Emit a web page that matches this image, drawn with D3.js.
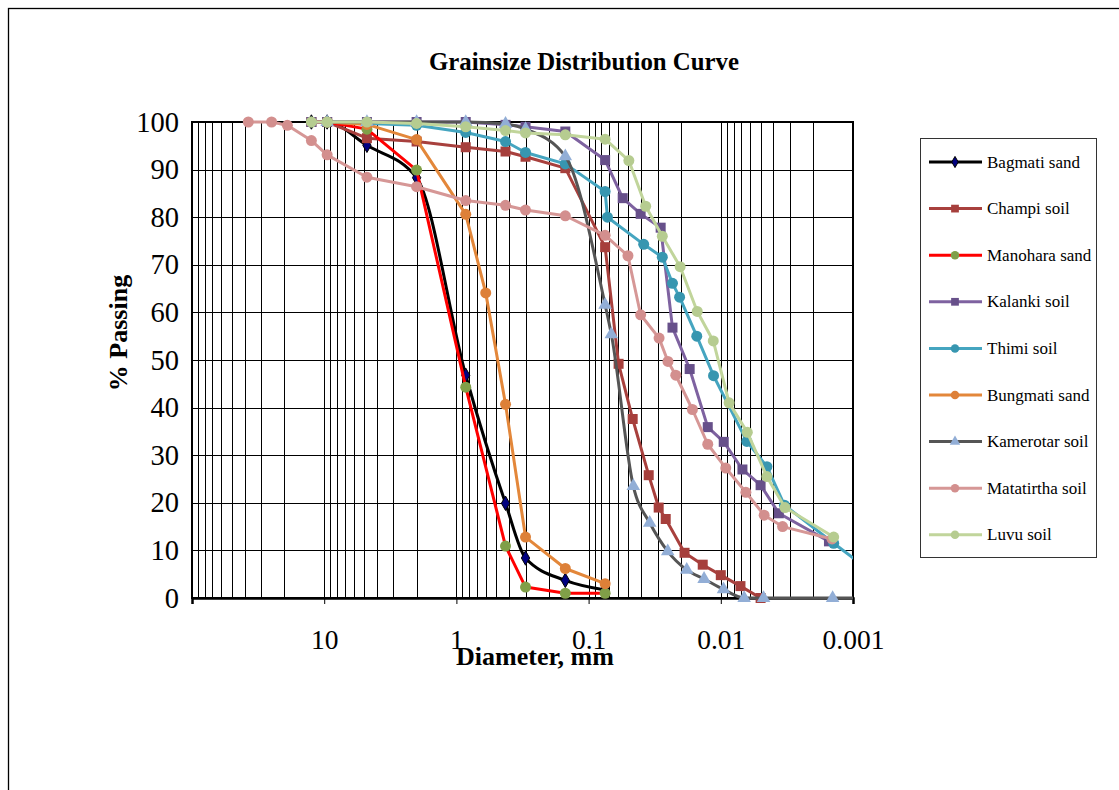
<!DOCTYPE html>
<html>
<head>
<meta charset="utf-8">
<script src="https://cdn.jsdelivr.net/npm/d3@7"></script>
<style>
  body { margin: 0; background: #fff; }
  text { font-family: "Times New Roman", "Liberation Serif", serif; fill: #000; }
</style>
</head>
<body>
<svg id="chart" width="1119" height="790"></svg>
<script>
// series names, in legend / drawing order
const seriesNames = ["Bagmati sand", "Champi soil", "Manohara sand", "Kalanki soil", "Thimi soil",
                     "Bungmati sand", "Kamerotar soil", "Matatirtha soil", "Luvu soil"];

// diameters (mm) and % passing
const bagmatiD = [12.5, 9.5, 4.75, 2, 0.85, 0.425, 0.3, 0.15, 0.075];
const bagmatiP = [100, 100, 95.1, 88.3, 46.8, 19.9, 8.4, 3.7, 1.7];

const champiD = [12.5, 9.5, 4.75, 2, 0.85, 0.425, 0.3, 0.15, 0.075, 0.0593, 0.0464, 0.0351, 0.0295, 0.0261, 0.0188, 0.0137, 0.0100, 0.0071, 0.0050];
const champiP = [100, 100, 96.6, 95.9, 94.7, 93.8, 92.7, 90.3, 73.7, 49.2, 37.6, 25.8, 19.0, 16.6, 9.5, 7.0, 4.8, 2.5, 0];

const manoharaD = [12.5, 9.5, 4.75, 2, 0.85, 0.425, 0.3, 0.15, 0.075];
const manoharaP = [100, 100, 98.5, 89.9, 44.3, 10.9, 2.3, 1.0, 1.0];

const kalankiD = [12.5, 9.5, 4.75, 2, 0.85, 0.425, 0.3, 0.15, 0.075, 0.0552, 0.0404, 0.0285, 0.0232, 0.0172, 0.01255, 0.0095, 0.00686, 0.0050, 0.00364, 0.00152];
const kalankiP = [100, 100, 100, 100, 100, 99.4, 99.0, 98.0, 92.0, 84.0, 80.7, 77.8, 56.8, 48.1, 35.9, 32.8, 27.0, 23.7, 17.8, 11.9];

const thimiD = [9.5, 4.75, 2, 0.85, 0.425, 0.3, 0.15, 0.075, 0.072, 0.0383, 0.0277, 0.0232, 0.0205, 0.0152, 0.01135, 0.00635, 0.00448, 0.0033, 0.0014, 0.0009];
const thimiP = [100, 99.7, 99.3, 97.8, 95.9, 93.6, 91.2, 85.4, 80.0, 74.3, 71.6, 66.1, 63.2, 55.0, 46.7, 32.9, 27.6, 19.5, 11.5, 7.5];

const bungmatiD = [9.5, 4.75, 2, 0.85, 0.6, 0.425, 0.3, 0.15, 0.075];
const bungmatiP = [100, 99.5, 96.3, 80.6, 64.1, 40.7, 12.8, 6.2, 3.0];

const kamerotarD = [9.5, 4.75, 2, 0.85, 0.425, 0.3, 0.15, 0.075, 0.0673, 0.0459, 0.0345, 0.0252, 0.0181, 0.01338, 0.00954, 0.00666, 0.00475, 0.001426, 0.0009];
const kamerotarP = [100, 100, 100, 100, 99.6, 98.5, 92.8, 61.6, 55.4, 23.5, 15.8, 9.8, 5.9, 4.0, 1.8, 0, 0, 0, 0];

const matatirthaD = [37.5, 25, 19, 12.5, 9.5, 4.75, 2, 0.85, 0.425, 0.3, 0.15, 0.075, 0.0504, 0.0404, 0.0293, 0.0251, 0.0219, 0.0164, 0.01255, 0.00917, 0.00646, 0.0047, 0.00341, 0.00144];
const matatirthaP = [100, 100, 99.3, 96.1, 93.1, 88.4, 86.4, 83.5, 82.5, 81.5, 80.3, 76.2, 71.9, 59.5, 54.6, 49.7, 46.8, 39.6, 32.3, 27.3, 22.2, 17.4, 15.0, 12.4];

const luvuD = [12.5, 9.5, 4.75, 2, 0.85, 0.425, 0.3, 0.15, 0.075, 0.0496, 0.0370, 0.0277, 0.0203, 0.01507, 0.0114, 0.00865, 0.0063, 0.00448, 0.00327, 0.0014];
const luvuP = [100, 100, 100, 99.7, 99.0, 98.2, 97.7, 97.3, 96.4, 91.9, 82.3, 76.0, 69.6, 60.2, 54.0, 41.0, 34.8, 25.5, 19.0, 12.8];

const xTicks = [10, 1, 0.1, 0.01, 0.001];
const yTicks = [0, 10, 20, 30, 40, 50, 60, 70, 80, 90, 100];

const allD = [bagmatiD, champiD, manoharaD, kalankiD, thimiD, bungmatiD, kamerotarD, matatirthaD, luvuD];
const allP = [bagmatiP, champiP, manoharaP, kalankiP, thimiP, bungmatiP, kamerotarP, matatirthaP, luvuP];

// look of each series
const styles = [
  {line: "#000000", fill: "#000080", stroke: "#000000", sym: d3.symbolDiamond, size: 60, smooth: true},
  {line: "#A8403D", fill: "#A63F3C", stroke: "none", sym: d3.symbolSquare, size: 100},
  {line: "#FF0000", fill: "#809F48", stroke: "none", sym: d3.symbolCircle, size: 95},
  {line: "#7E62A0", fill: "#67508A", stroke: "none", sym: d3.symbolSquare, size: 100},
  {line: "#45A5C0", fill: "#3796B0", stroke: "none", sym: d3.symbolCircle, size: 95},
  {line: "#E3873A", fill: "#DD8038", stroke: "none", sym: d3.symbolCircle, size: 95},
  {line: "#555555", fill: "#92AED6", stroke: "none", sym: d3.symbolTriangle, size: 80, smooth: true},
  {line: "#D69796", fill: "#D38F8E", stroke: "none", sym: d3.symbolCircle, size: 95},
  {line: "#C1D59B", fill: "#B6CC90", stroke: "none", sym: d3.symbolCircle, size: 95}
];

const svg = d3.select("#chart");
const pLeft = 192, pRight = 853, pTop = 122, pBottom = 598;

// outer frame
svg.append("rect").attr("x", 8.5).attr("y", 8.5).attr("width", 1200).attr("height", 1000)
  .attr("fill", "none").attr("stroke", "#000").attr("stroke-width", 1.3);

const x = d3.scaleLog().domain([100, 0.001]).range([pLeft, pRight]);
const y = d3.scaleLinear().domain([0, 100]).range([pBottom, pTop]);

// grid
let gridX = [];
for (let k = -3; k <= 1; k++) for (let m = 1; m <= 9; m++) gridX.push(m * Math.pow(10, k));
gridX.push(100);

const grid = svg.append("g");
grid.selectAll("line.v").data(gridX).enter().append("line")
  .attr("x1", d => Math.round(x(d)) + 0.5).attr("x2", d => Math.round(x(d)) + 0.5)
  .attr("y1", pTop).attr("y2", pBottom)
  .attr("stroke", "#000").attr("stroke-width", 1);
grid.selectAll("line.h").data(yTicks).enter().append("line")
  .attr("x1", pLeft).attr("x2", pRight)
  .attr("y1", d => Math.round(y(d)) + 0.5).attr("y2", d => Math.round(y(d)) + 0.5)
  .attr("stroke", "#000").attr("stroke-width", 1);

svg.append("rect").attr("x", pLeft).attr("y", pTop).attr("width", pRight - pLeft).attr("height", pBottom - pTop)
  .attr("fill", "none").attr("stroke", "#000").attr("stroke-width", 2);

// axes
const xAxis = d3.axisBottom(x).tickValues(xTicks).tickFormat(d => String(d)).tickSize(6).tickPadding(25);
svg.append("g").attr("transform", "translate(0," + pBottom + ")").call(xAxis)
  .call(g => g.select(".domain").attr("stroke-width", 2.5))
  .call(g => g.selectAll("text").attr("font-size", 27.5).attr("font-family", null));

const yAxis = d3.axisLeft(y).tickValues(yTicks).tickSize(0).tickPadding(13);
svg.append("g").attr("transform", "translate(" + pLeft + ",0)").call(yAxis)
  .call(g => g.select(".domain").remove())
  .call(g => g.selectAll("text").attr("font-size", 28.5).attr("font-family", null));

// clip for lines
svg.append("clipPath").attr("id", "plotclip").append("rect")
  .attr("x", pLeft).attr("y", pTop - 10).attr("width", pRight - pLeft).attr("height", pBottom - pTop + 20);

const layer = svg.append("g");
allD.forEach((ds, i) => {
  const pts = ds.map((d, j) => [d, allP[i][j]]);
  const st = styles[i];
  const line = d3.line().x(p => x(p[0])).y(p => y(p[1]))
    .curve(st.smooth ? d3.curveMonotoneX : d3.curveLinear);
  layer.append("path").datum(pts).attr("d", line)
    .attr("fill", "none").attr("stroke", st.line).attr("stroke-width", 3)
    .attr("stroke-linejoin", "round").attr("clip-path", "url(#plotclip)");
  layer.selectAll(null).data(pts.filter(p => p[0] >= 0.001)).enter().append("path")
    .attr("transform", p => "translate(" + x(p[0]) + "," + y(p[1]) + ")")
    .attr("d", d3.symbol().type(st.sym).size(st.size))
    .attr("fill", st.fill).attr("stroke", st.stroke).attr("stroke-width", 1);
});

// titles
svg.append("text").attr("x", 584).attr("y", 70).attr("text-anchor", "middle")
  .attr("font-size", 24.8).attr("font-weight", "bold").text("Grainsize Distribution Curve");
svg.append("text").attr("transform", "translate(127,333) rotate(-90)").attr("text-anchor", "middle")
  .attr("font-size", 26).attr("font-weight", "bold").text("% Passing");
svg.append("text").attr("x", 535).attr("y", 665).attr("text-anchor", "middle")
  .attr("font-size", 26).attr("font-weight", "bold").text("Diameter, mm");

// legend
const legend = svg.append("g");
legend.append("rect").attr("x", 920.5).attr("y", 138.5).attr("width", 176).attr("height", 419)
  .attr("fill", "#fff").attr("stroke", "#333").attr("stroke-width", 1);
seriesNames.forEach((name, i) => {
  const st = styles[i];
  const ly = 162 + i * 46.6;
  legend.append("line").attr("x1", 929).attr("x2", 982).attr("y1", ly).attr("y2", ly)
    .attr("stroke", st.line).attr("stroke-width", 3);
  legend.append("path").attr("transform", "translate(955," + ly + ")")
    .attr("d", d3.symbol().type(st.sym).size(st.size * 0.6))
    .attr("fill", st.fill).attr("stroke", st.stroke).attr("stroke-width", 1);
  legend.append("text").attr("x", 987).attr("y", ly).attr("dy", "0.33em")
    .attr("font-size", 17).text(name);
});
</script>
</body>
</html>
